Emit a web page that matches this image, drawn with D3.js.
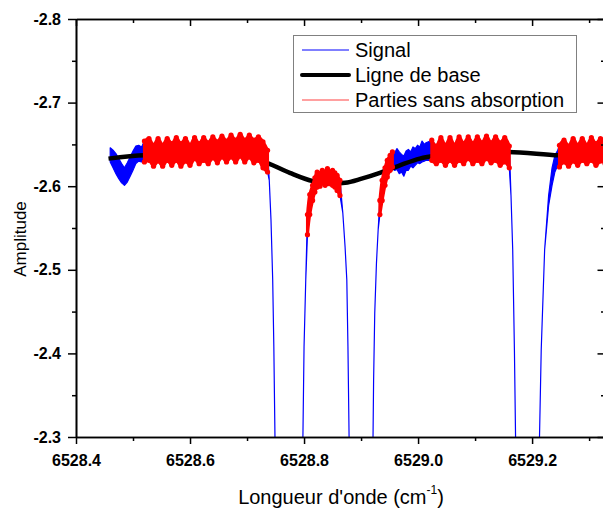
<!DOCTYPE html>
<html><head><meta charset="utf-8">
<script src="https://cdn.jsdelivr.net/npm/d3@7"></script>
<style>
body{margin:0;background:#fff}
svg{display:block}
text{font-family:"Liberation Sans",Arial,sans-serif}
</style>
</head><body>
<svg id="c" width="603" height="509"></svg>
<script>
// ---------- data ----------
const xDomain = [6528.4, 6529.327];
const yDomain = [-2.8, -2.3];
const xMajorTicks = [6528.4, 6528.6, 6528.8, 6529.0, 6529.2];
const xMinorTicks = [6528.5, 6528.7, 6528.9, 6529.1, 6529.3];
const yMajorTicks = [-2.8, -2.7, -2.6, -2.5, -2.4, -2.3];
const yMinorTicks = [-2.75, -2.65, -2.55, -2.45, -2.35];

// signal: [wavenumber, upper envelope, lower envelope]
const signal = [
 [6528.460,-2.646,-2.629],[6528.465,-2.643,-2.622],[6528.470,-2.639,-2.615],[6528.475,-2.633,-2.609],
 [6528.480,-2.627,-2.604],[6528.485,-2.622,-2.601],[6528.490,-2.628,-2.605],[6528.495,-2.635,-2.612],
 [6528.500,-2.642,-2.619],[6528.505,-2.648,-2.627],[6528.510,-2.649,-2.630],[6528.515,-2.647,-2.629],
 [6528.520,-2.654,-2.629],[6528.528,-2.657,-2.631],[6528.536,-2.649,-2.624],[6528.544,-2.657,-2.630],
 [6528.552,-2.649,-2.624],[6528.560,-2.657,-2.631],[6528.568,-2.651,-2.625],[6528.576,-2.658,-2.631],
 [6528.584,-2.651,-2.624],[6528.592,-2.657,-2.630],[6528.600,-2.649,-2.625],[6528.608,-2.658,-2.633],
 [6528.616,-2.651,-2.627],[6528.624,-2.658,-2.631],[6528.632,-2.652,-2.627],[6528.640,-2.659,-2.634],
 [6528.648,-2.653,-2.628],[6528.656,-2.660,-2.635],[6528.664,-2.654,-2.629],[6528.672,-2.661,-2.635],
 [6528.680,-2.655,-2.629],[6528.688,-2.662,-2.636],[6528.696,-2.655,-2.629],[6528.704,-2.661,-2.635],
 [6528.712,-2.655,-2.628],[6528.720,-2.659,-2.631],[6528.728,-2.653,-2.622],[6528.736,-2.643,-2.617],
 [6528.739,-2.607,-2.607],[6528.742,-2.560,-2.560],[6528.745,-2.488,-2.488],[6528.747,-2.408,-2.408],
 [6528.749,-2.300,-2.300],[6528.751,-2.201,-2.201],[6528.773,-1.900,-1.900],[6528.796,-2.201,-2.201],
 [6528.798,-2.300,-2.300],[6528.800,-2.408,-2.408],[6528.803,-2.488,-2.488],
 [6528.806,-2.566,-2.542],[6528.810,-2.590,-2.566],[6528.815,-2.601,-2.583],[6528.819,-2.610,-2.593],
 [6528.823,-2.617,-2.599],[6528.828,-2.615,-2.600],[6528.832,-2.619,-2.604],[6528.837,-2.617,-2.601],
 [6528.841,-2.621,-2.605],[6528.845,-2.617,-2.603],[6528.850,-2.619,-2.601],[6528.854,-2.616,-2.599],
 [6528.858,-2.613,-2.595],[6528.863,-2.607,-2.589],
 [6528.868,-2.568,-2.568],[6528.872,-2.527,-2.527],[6528.875,-2.488,-2.488],[6528.877,-2.408,-2.408],
 [6528.879,-2.300,-2.300],[6528.881,-2.201,-2.201],[6528.901,-1.900,-1.900],[6528.920,-2.201,-2.201],
 [6528.921,-2.300,-2.300],[6528.922,-2.368,-2.368],[6528.924,-2.448,-2.448],[6528.927,-2.508,-2.508],
 [6528.930,-2.548,-2.548],
 [6528.933,-2.583,-2.566],[6528.937,-2.607,-2.583],[6528.942,-2.622,-2.601],[6528.946,-2.631,-2.611],
 [6528.951,-2.637,-2.619],[6528.955,-2.641,-2.623],
 [6528.959,-2.640,-2.619],[6528.963,-2.645,-2.620],[6528.967,-2.641,-2.615],[6528.971,-2.638,-2.617],
 [6528.975,-2.636,-2.612],[6528.979,-2.642,-2.619],[6528.983,-2.644,-2.619],[6528.987,-2.641,-2.624],
 [6528.991,-2.647,-2.622],[6528.995,-2.645,-2.625],[6528.999,-2.649,-2.628],[6529.003,-2.647,-2.627],
 [6529.007,-2.654,-2.629],[6529.011,-2.650,-2.630],[6529.014,-2.652,-2.631],
 [6529.024,-2.655,-2.631],[6529.032,-2.648,-2.627],[6529.040,-2.658,-2.631],[6529.048,-2.649,-2.625],
 [6529.056,-2.658,-2.631],[6529.064,-2.649,-2.625],[6529.072,-2.659,-2.631],[6529.080,-2.651,-2.627],
 [6529.088,-2.659,-2.633],[6529.096,-2.651,-2.627],[6529.104,-2.659,-2.631],[6529.112,-2.652,-2.627],
 [6529.120,-2.660,-2.633],[6529.128,-2.652,-2.628],[6529.136,-2.659,-2.631],[6529.144,-2.652,-2.625],
 [6529.152,-2.658,-2.629],[6529.160,-2.648,-2.622],
 [6529.163,-2.589,-2.589],[6529.166,-2.524,-2.524],[6529.169,-2.404,-2.404],[6529.171,-2.300,-2.300],
 [6529.173,-2.201,-2.201],[6529.192,-1.900,-1.900],[6529.212,-2.201,-2.201],[6529.213,-2.300,-2.300],
 [6529.216,-2.404,-2.404],[6529.222,-2.524,-2.524],[6529.229,-2.589,-2.577],
 [6529.235,-2.622,-2.601],[6529.240,-2.637,-2.617],[6529.245,-2.643,-2.625],
 [6529.248,-2.649,-2.623],[6529.256,-2.655,-2.629],[6529.264,-2.648,-2.624],[6529.272,-2.657,-2.630],
 [6529.280,-2.649,-2.625],[6529.288,-2.657,-2.631],[6529.296,-2.649,-2.627],[6529.304,-2.658,-2.631],
 [6529.312,-2.651,-2.625],[6529.320,-2.657,-2.630],[6529.328,-2.649,-2.627]
];

// wavenumber ranges kept as "parties sans absorption"
const noAbsRanges = [
 [6528.518, 6528.737], [6528.805, 6528.864], [6528.932, 6528.956],
 [6529.020, 6529.161], [6529.246, 6529.330]
];

// fitted baseline
const baseline = [
 [6528.457,-2.633],[6528.521,-2.637],[6528.617,-2.638],[6528.688,-2.637],[6528.735,-2.628],
 [6528.775,-2.616],[6528.816,-2.606],[6528.845,-2.603],[6528.872,-2.604],[6528.901,-2.609],
 [6528.933,-2.616],[6528.968,-2.625],[6529.003,-2.633],[6529.038,-2.637],[6529.091,-2.640],
 [6529.157,-2.641],[6529.247,-2.637],[6529.330,-2.636]
];

const legendLabels = ["Signal", "Ligne de base", "Parties sans absorption"];
const legendColors = ["#0000ff", "#000000", "#ff8080"];
const legendWidths = [1, 4, 1.5];

// ---------- drawing ----------
const svg = d3.select("#c");
const M = {l:76, t:19, r:604.5, b:437};
const x = d3.scaleLinear().domain(xDomain).range([M.l, M.r]);
const y = d3.scaleLinear().domain(yDomain).range([M.t, M.b]);

svg.append("defs").append("clipPath").attr("id","clip")
  .append("rect").attr("x",M.l).attr("y",M.t).attr("width",M.r-M.l).attr("height",M.b-M.t);
const plot = svg.append("g").attr("clip-path","url(#clip)");

const band = d3.area().x(d=>x(d[0])).y0(d=>y(d[2])).y1(d=>y(d[1]));
const smoothBand = d3.area().x(d=>x(d[0])).y0(d=>y(d[2])).y1(d=>y(d[1])).curve(d3.curveCatmullRom);

// signal (blue)
plot.append("path").datum(signal).attr("d", band)
  .attr("fill","#0000ff").attr("stroke","#0000ff").attr("stroke-width",1.2)
  .attr("stroke-linejoin","round");

// baseline (black)
plot.append("path").datum(baseline)
  .attr("d", d3.line().x(d=>x(d[0])).y(d=>y(d[1])).curve(d3.curveMonotoneX))
  .attr("fill","none").attr("stroke","#000").attr("stroke-width",4.5).attr("stroke-linecap","butt");

// parties sans absorption (red)
noAbsRanges.forEach(r => {
  const pts = signal.filter(d => d[0] >= r[0] && d[0] <= r[1]);
  plot.append("path").datum(pts).attr("d", smoothBand)
    .attr("fill","#ff0000").attr("stroke","#ff0000").attr("stroke-width",3)
    .attr("stroke-linejoin","round").attr("stroke-linecap","round");
  const g = plot.append("g").attr("fill","#ff0000");
  g.selectAll("circle.t").data(pts).join("circle").attr("class","t")
    .attr("cx",d=>x(d[0])).attr("cy",d=>y(d[1])).attr("r",2.6);
  g.selectAll("circle.b").data(pts).join("circle").attr("class","b")
    .attr("cx",d=>x(d[0])).attr("cy",d=>y(d[2])).attr("r",2.6);
});

// ---------- axes ----------
const fmt = d => d.toFixed(1);
function styleAxis(g){
  g.selectAll(".domain").attr("stroke","#000").attr("stroke-width",1.6);
  g.selectAll(".tick line").attr("stroke","#000").attr("stroke-width",1.5);
  g.selectAll(".tick text").attr("fill","#000").attr("font-size","16px").attr("font-weight","bold")
    .attr("font-family","'Liberation Sans',Arial,sans-serif");
}
// bottom
svg.append("g").attr("transform",`translate(0,${M.b})`)
  .call(d3.axisBottom(x).tickValues(xMinorTicks).tickSize(4).tickSizeOuter(0).tickFormat(""))
  .call(styleAxis);
svg.append("g").attr("transform",`translate(0,${M.b})`)
  .call(d3.axisBottom(x).tickValues(xMajorTicks).tickSize(7).tickPadding(11).tickSizeOuter(0).tickFormat(fmt))
  .call(styleAxis);
// top
svg.append("g").attr("transform",`translate(0,${M.t})`)
  .call(d3.axisTop(x).tickValues(xMinorTicks).tickSize(-4).tickSizeOuter(0).tickFormat(""))
  .call(styleAxis);
svg.append("g").attr("transform",`translate(0,${M.t})`)
  .call(d3.axisTop(x).tickValues(xMajorTicks).tickSize(-7).tickSizeOuter(0).tickFormat(""))
  .call(styleAxis);
// left
svg.append("g").attr("transform",`translate(${M.l},0)`)
  .call(d3.axisLeft(y).tickValues(yMinorTicks).tickSize(4).tickSizeOuter(0).tickFormat(""))
  .call(styleAxis);
svg.append("g").attr("transform",`translate(${M.l},0)`)
  .call(d3.axisLeft(y).tickValues(yMajorTicks).tickSize(8).tickPadding(7).tickSizeOuter(0).tickFormat(fmt))
  .call(styleAxis);
// right
svg.append("g").attr("transform",`translate(${M.r},0)`)
  .call(d3.axisRight(y).tickValues(yMinorTicks).tickSize(-3.5).tickSizeOuter(0).tickFormat(""))
  .call(styleAxis);
svg.append("g").attr("transform",`translate(${M.r},0)`)
  .call(d3.axisRight(y).tickValues(yMajorTicks).tickSize(-7).tickSizeOuter(0).tickFormat(""))
  .call(styleAxis);

// axis titles
const xt = svg.append("text").attr("x",341).attr("y",504).attr("text-anchor","middle")
  .attr("font-size","20px").attr("fill","#000");
xt.append("tspan").text("Longueur d'onde (cm");
xt.append("tspan").attr("font-size","12px").attr("dy","-10").text("-1");
xt.append("tspan").attr("dy","10").text(")");

svg.append("text").attr("transform","translate(25.5,239) rotate(-90)")
  .attr("text-anchor","middle").attr("font-size","17px").attr("fill","#000").text("Amplitude");

// legend
const lg = svg.append("g");
lg.append("rect").attr("x",293.5).attr("y",35.5).attr("width",283).attr("height",77)
  .attr("fill","#fff").attr("stroke","#808080").attr("stroke-width",1);
legendLabels.forEach((lab,i) => {
  const cy = 50 + i*25;
  lg.append("line").attr("x1",302).attr("x2",349).attr("y1",cy).attr("y2",cy)
    .attr("stroke",legendColors[i]).attr("stroke-width",legendWidths[i]).attr("stroke-linecap", i===1?"round":"butt");
  lg.append("text").attr("x",355).attr("y",cy+7).attr("font-size","20px").attr("fill","#000").text(lab);
});
</script>
</body></html>
